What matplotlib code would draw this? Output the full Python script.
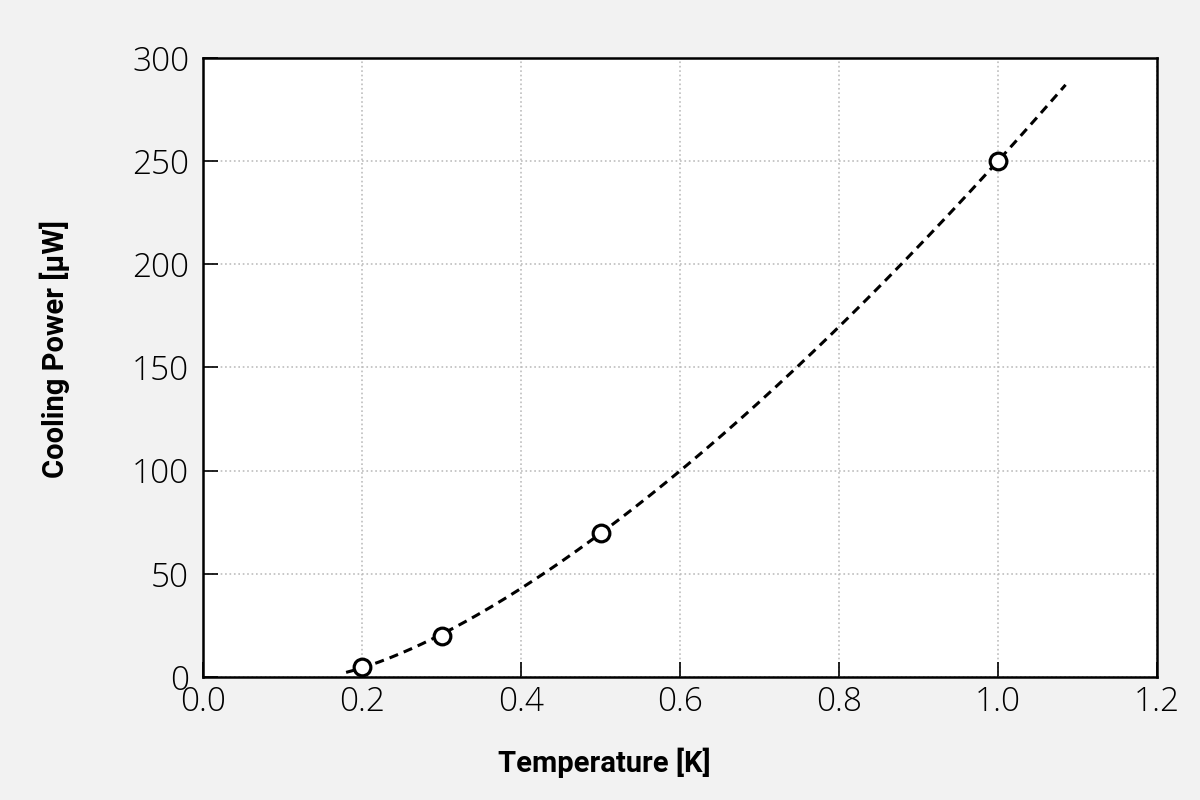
import numpy as np
import matplotlib.pyplot as plt

# measured cooling power
temperature = [0.2, 0.3, 0.5, 1.0]
cooling_power = [5, 20, 70, 250]

x_ticks = [0.0, 0.2, 0.4, 0.6, 0.8, 1.0, 1.2]
y_ticks = [0, 50, 100, 150, 200, 250, 300]


def fit_offset_power(t, p):
    """Least squares fit of p = a * (t - t0)^n by brute force over t0 and n."""
    t = np.asarray(t, float)
    p = np.asarray(p, float)
    best = None
    for t0 in np.linspace(0.05, 0.195, 146):
        for n in np.linspace(1.0, 2.5, 151):
            f = (t - t0) ** n
            a = np.sum(f * p) / np.sum(f * f)
            err = np.sum((a * f - p) ** 2)
            if best is None or err < best[0]:
                best = (err, a, t0, n)
    return best[1:]


a, t0, n = fit_offset_power(temperature, cooling_power)
t_fit = np.linspace(0.18, 1.085, 200)
p_fit = a * np.clip(t_fit - t0, 0, None) ** n

fig = plt.figure(figsize=(12, 8), dpi=100, facecolor="#f2f2f2")
ax = fig.add_axes([203 / 1200, 1 - 677 / 800, (1157 - 203) / 1200, (677 - 58) / 800])
ax.set_facecolor("white")

ax.plot(t_fit, p_fit, linestyle=(0, (3, 2)), color="black", lw=2.2, zorder=2)
ax.plot(temperature, cooling_power, "o", mfc="white", mec="black", mew=2.3, ms=12, zorder=3)

ax.set_xlim(0, 1.2)
ax.set_ylim(0, 300)
ax.set_xticks(x_ticks)
ax.set_yticks(y_ticks)
tick_font = dict(family="Open Sans", weight="light", fontsize=24)
ax.set_xticklabels([f"{v:.1f}" for v in x_ticks], **tick_font)
ax.set_yticklabels([str(v) for v in y_ticks], **tick_font)
ax.tick_params(axis="y", direction="in", length=11, width=1.2, pad=10, colors="black")
ax.tick_params(axis="x", direction="in", length=11, width=1.2, pad=6, colors="black")

ax.grid(True, linestyle=":", color="#bdbdbd", lw=1.2, zorder=0)
for s in ax.spines.values():
    s.set_linewidth(1.8)

label_font = dict(family="Roboto", weight="bold", fontsize=21)
fig.text(604 / 1200, 1 - 763 / 800, "Temperature [K]", ha="center", va="center", **label_font)
fig.text(55 / 1200, 1 - 349 / 800, "Cooling Power [µW]", ha="center", va="center",
         rotation=90, **label_font)

fig.savefig("out.png", dpi=100, facecolor=fig.get_facecolor())
